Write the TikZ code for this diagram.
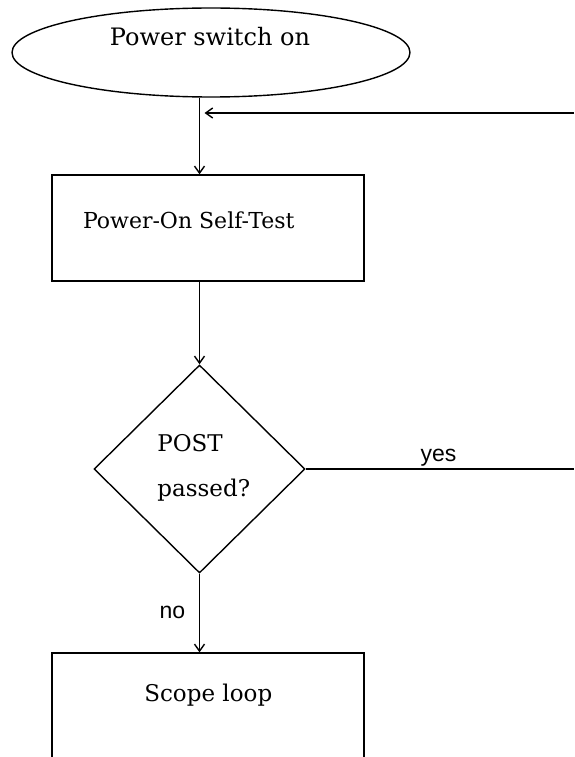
\documentclass[tikz,border=0pt]{standalone}
\usepackage{fontspec}
\setmainfont{DejaVu Serif}
\newfontfamily\labelfont{Liberation Sans}
\usetikzlibrary{shapes.geometric,arrows.meta}
\begin{document}
\begin{tikzpicture}[x=1pt,y=-1pt,
  line width=1.4pt,
  stepbox/.style={draw, rectangle, minimum width=312pt, minimum height=106pt, inner sep=0pt},
  caption/.style={font=\fontsize{23}{27}\selectfont, inner sep=0pt, anchor=base west},
  edgelabel/.style={font=\labelfont\fontsize{23}{27}\selectfont, inner sep=0pt, anchor=base},
  flow/.style={draw, -{Straight Barb[length=7pt,width=10pt]}},
]
\useasboundingbox (0,0) rectangle (574,757);

% start terminal
\node[draw, ellipse, minimum width=398pt, minimum height=89pt, inner sep=0pt] (start) at (211,52.5) {};
\node[caption, anchor=base, font=\fontsize{24}{28}\selectfont] (starttext) at (210,46) {Power switch on};

% self-test block
\node[stepbox] (post) at (208,228) {};
\node[caption, font=\fontsize{22}{26}\selectfont] (posttext) at (82.3,228.3) {Power-On Self-Test};

% decision
\node[draw, diamond, minimum width=211pt, minimum height=208pt, inner sep=0pt] (check) at (199.5,469) {};
\node[caption] (checka) at (156.7,451.7) {POST};
\node[caption] (checkb) at (156.7,496.7) {passed?};

% failure branch target
\node[stepbox] (scope) at (208,706) {};
\node[caption, anchor=base] (scopetext) at (208.3,701.7) {Scope loop};

% connectors
\coordinate (loopin) at (574,113);
\coordinate (looptip) at (204.5,113);
\coordinate (yesend) at (574,469);

\draw[flow] (start.south -| check.north) -- (post.north -| check.north);
\draw[flow] (loopin) -- (looptip);
\draw[flow] (post.south -| check.north) -- (check.north);
\draw (check.east) -- (yesend);
\draw[flow] (check.south) -- (scope.north -| check.south);

% branch labels
\node[edgelabel] (yeslabel) at (438.5,461.7) {yes};
\node[edgelabel] (nolabel) at (172.5,618) {no};
\end{tikzpicture}
\end{document}
